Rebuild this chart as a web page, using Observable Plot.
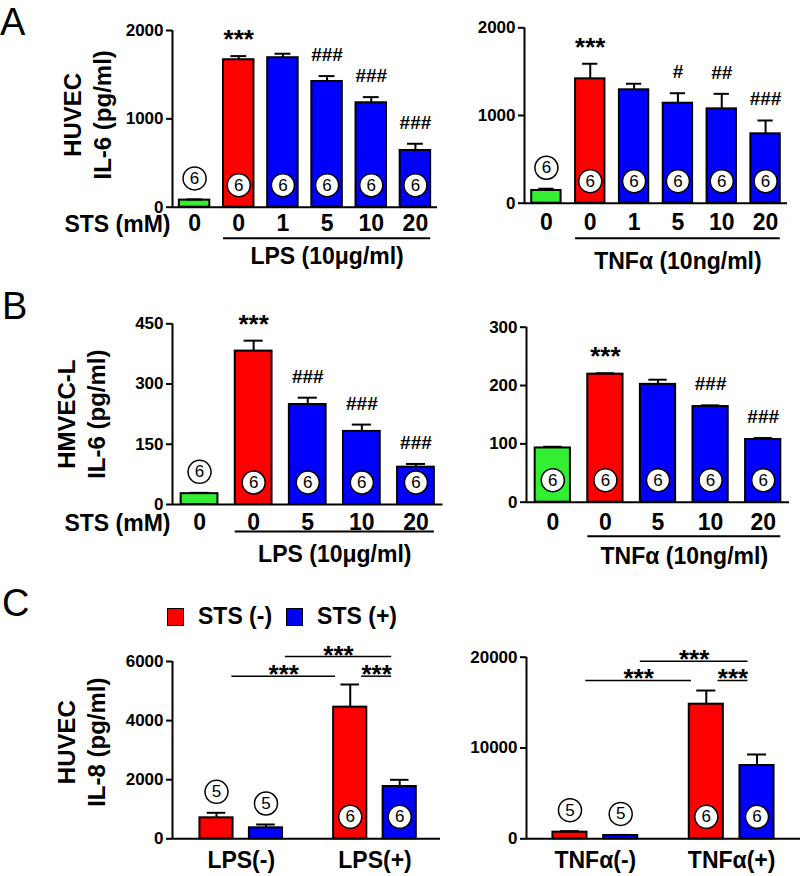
<!DOCTYPE html>
<html><head><meta charset="utf-8">
<script src="https://cdn.jsdelivr.net/npm/d3@7"></script>
<script src="https://cdn.jsdelivr.net/npm/@observablehq/plot@0.6"></script>
<style>
html,body{margin:0;padding:0;background:#fff;}
#fig{position:relative;width:800px;height:876px;font-family:"Liberation Sans",Arial,sans-serif;overflow:hidden;background:#fff;}
#fig > *{position:absolute;}
.letter{font-family:"Liberation Sans",Arial,sans-serif;font-size:38px;line-height:44px;color:#000;}
.legend{display:flex;align-items:center;font-family:"Liberation Sans",Arial,sans-serif;font-size:23px;font-weight:700;white-space:nowrap;color:#000;}
.sw{width:15px;height:16px;border:1.5px solid #000;margin-right:14px;}
.lab{margin-right:14px;font-weight:700;}
</style></head><body><div id="fig"></div>
<script>
// ---------- Panel A: HUVEC IL-6 (pg/ml) ----------
const A_stsDose = ["0", "0", "1", "5", "10", "20"];
const A_condition = ["ctrl", "stim", "sts", "sts", "sts", "sts"];
const A_lps_mean = [80, 1669, 1692, 1423, 1182, 642];
const A_lps_sem = [8, 41, 45, 61, 64, 76];
const A_lps_n = [6, 6, 6, 6, 6, 6];
const A_lps_sig = ["", "***", "", "###", "###", "###"];
const A_tnf_mean = [145, 1418, 1293, 1140, 1076, 791];
const A_tnf_sem = [20, 172, 69, 114, 171, 152];
const A_tnf_n = [6, 6, 6, 6, 6, 6];
const A_tnf_sig = ["", "***", "", "#", "##", "###"];
const A_yTicks = [0, 1000, 2000];
const A_yTitle = "HUVEC\nIL-6 (pg/ml)";

// ---------- Panel B: HMVEC-L IL-6 (pg/ml) ----------
const B_stsDose = ["0", "0", "5", "10", "20"];
const B_condition = ["ctrl", "stim", "sts", "sts", "sts"];
const B_lps_mean = [27, 382, 249, 182, 93];
const B_lps_sem = [2, 26, 17, 17, 8];
const B_lps_n = [6, 6, 6, 6, 6];
const B_lps_sig = ["", "***", "###", "###", "###"];
const B_lps_yTicks = [0, 150, 300, 450];
const B_tnf_mean = [93, 219.5, 202, 164, 107.5];
const B_tnf_sem = [2, 1.5, 8, 2, 2.5];
const B_tnf_n = [6, 6, 6, 6, 6];
const B_tnf_sig = ["", "***", "", "###", "###"];
const B_tnf_yTicks = [0, 100, 200, 300];
const B_yTitle = "HMVEC-L\nIL-6 (pg/ml)";

// ---------- Panel C: HUVEC IL-8 (pg/ml) ----------
const C_series = ["STS (-)", "STS (+)"];
const C_seriesColor = ["#ff0000", "#0000ff"];
const C_lps_groups = ["LPS(-)", "LPS(+)"];
const C_lps_stsNeg_mean = [710, 4455];
const C_lps_stsNeg_sem = [170, 767];
const C_lps_stsNeg_n = [5, 6];
const C_lps_stsPos_mean = [372, 1770];
const C_lps_stsPos_sem = [112, 226];
const C_lps_stsPos_n = [5, 6];
const C_lps_yTicks = [0, 2000, 4000, 6000];
const C_lps_bracketFrom = [-0.07, 0.33, 0.9];
const C_lps_bracketTo = [0.705, 1.125, 1.125];
const C_lps_bracketY = [5503, 6169, 5503];
const C_lps_bracketLabel = ["***", "***", "***"];
const C_tnf_groups = ["TNFα(-)", "TNFα(+)"];
const C_tnf_stsNeg_mean = [730, 14824];
const C_tnf_stsNeg_sem = [110, 1506];
const C_tnf_stsNeg_n = [5, 6];
const C_tnf_stsPos_mean = [360, 8073];
const C_tnf_stsPos_sem = [70, 1211];
const C_tnf_stsPos_n = [5, 6];
const C_tnf_yTicks = [0, 10000, 20000];
const C_tnf_bracketFrom = [-0.07, 0.33, 0.9];
const C_tnf_bracketTo = [0.705, 1.12, 1.12];
const C_tnf_bracketY = [17434, 19560, 17434];
const C_tnf_bracketLabel = ["***", "***", "***"];
const C_yTitle = "HUVEC\nIL-8 (pg/ml)";

const stsAxisLabel = "STS (mM)";
const lpsLabel = "LPS (10μg/ml)";
const tnfLabel = "TNFα (10ng/ml)";
const panelLetters = ["A", "B", "C"];

// ---------- drawing ----------
const FONT = '"Liberation Sans", Arial, sans-serif';
const BIG = 23;
const condFill = {ctrl: "#33ee33", stim: "#ff0000", sts: "#0000ff"};
const fig = document.getElementById("fig");

function place(el, g) {
  el.style.left = g.left + "px";
  el.style.top = g.top + "px";
  fig.appendChild(el);
}

function common(g) {
  return {
    width: g.width, height: g.height,
    marginTop: g.mt, marginRight: g.mr, marginBottom: g.mb, marginLeft: g.ml,
    color: {type: "identity"},
    style: {fontFamily: FONT, overflow: "visible", background: "transparent", color: "#000"}
  };
}

function sigMarks(rows, xKey) {
  return [
    Plot.text(rows.filter(d => d.note && d.note[0] === "*"), {x: xKey, y: "top", text: "note", lineAnchor: "bottom", dy: -8, fontSize: 26, fontWeight: "bold"}),
    Plot.text(rows.filter(d => d.note && d.note[0] === "#"), {x: xKey, y: "top", text: "note", lineAnchor: "bottom", dy: -15, fontSize: 19, fontWeight: "bold"})
  ];
}

function nMarks(rows, xKey, yMax) {
  const inside = d => d.mean > 0.2 * yMax;
  const inR = rows.filter(inside), outR = rows.filter(d => !inside(d));
  const circ = {r: 11.5, fill: "#fff", stroke: "#000", strokeWidth: 1.5};
  const lab = {text: d => String(d.n), fontSize: 17};
  return [
    Plot.dot(inR, {x: xKey, y: 0, dy: -22, ...circ}),
    Plot.text(inR, {x: xKey, y: 0, dy: -22, ...lab}),
    Plot.dot(outR, {x: xKey, y: "top", dy: -21, ...circ}),
    Plot.text(outR, {x: xKey, y: "top", dy: -21, ...lab})
  ];
}

function yAxisMarks(xd, yTicks, o) {
  const yMax = yTicks[yTicks.length - 1];
  const m = [
    Plot.ruleY([0], {strokeWidth: 2}),
    Plot.ruleX([xd[0]], {y1: 0, y2: yMax, strokeWidth: 2}),
    Plot.axisY({ticks: yTicks, tickFormat: d => String(d), tickSize: 6, tickPadding: 3, fontSize: 17, fontWeight: "bold", strokeWidth: 2, label: null})
  ];
  if (o.yTitle) m.push(Plot.text([o.yTitle], {text: d => d, frameAnchor: "left", textAnchor: "middle", lineAnchor: "middle", dx: o.titleDx, dy: o.titleDy, rotate: -90, fontSize: 24, fontWeight: "bold", lineHeight: 1.25}));
  return m;
}

function barPanel(o) {
  const n = o.dose.length;
  const xd = [-0.5, n - 0.5];
  const rows = o.dose.map((s, i) => ({i, mean: o.mean[i], top: o.mean[i] + o.sem[i], cond: o.cond[i], note: o.sig[i], n: o.n[i]}));
  const hw = o.barW / 2, cap = o.barW * 0.26;
  const tr = rows.filter(d => d.cond !== "ctrl");
  const t0 = tr[0].i - hw, t1 = tr[tr.length - 1].i + hw;
  const yMax = o.yTicks[o.yTicks.length - 1];
  const marks = [
    Plot.rectY(rows, {x1: d => d.i - hw, x2: d => d.i + hw, y1: 0, y2: "mean", fill: d => condFill[d.cond], stroke: "#000", strokeWidth: 2}),
    Plot.ruleX(rows, {x: "i", y1: "mean", y2: "top", strokeWidth: 2}),
    Plot.ruleY(rows, {y: "top", x1: d => d.i - cap, x2: d => d.i + cap, strokeWidth: 2}),
    ...yAxisMarks(xd, o.yTicks, o),
    Plot.axisX({ticks: d3.range(n), tickFormat: i => o.dose[i], tickSize: 0, tickPadding: o.catPad, fontSize: BIG, fontWeight: "bold", label: null}),
    Plot.ruleY([0], {x1: () => t0, x2: () => t1, dy: o.ulDy, strokeWidth: 2}),
    Plot.text([o.stim], {text: d => d, x: () => (t0 + t1) / 2, frameAnchor: "bottom", textAnchor: "middle", lineAnchor: "top", dy: o.stimDy, fontSize: BIG, fontWeight: "bold"}),
    ...sigMarks(rows, "i"),
    ...nMarks(rows, "i", yMax)
  ];
  if (o.showSts) marks.push(Plot.text([stsAxisLabel], {text: d => d, frameAnchor: "bottom-left", textAnchor: "end", lineAnchor: "top", dx: -2, dy: o.catPad + 1, fontSize: BIG, fontWeight: "bold"}));
  const svg = Plot.plot({...common(o.g), x: {domain: xd}, y: {domain: [0, yMax]}, marks});
  place(svg, o.g);
}

function groupPanel(o) {
  const rows = [];
  o.groups.forEach((g, gi) => o.series.forEach((s, si) => {
    rows.push({x: gi + (si === 0 ? -o.off : o.off), mean: o.mean[si][gi], top: o.mean[si][gi] + o.sem[si][gi], n: o.n[si][gi], color: o.colors[si]});
  }));
  const hw = o.barW / 2, cap = o.barW * 0.28;
  const yMax = o.yTicks[o.yTicks.length - 1];
  const br = o.bFrom.map((f, k) => ({x1: f, x2: o.bTo[k], y: o.bY[k], label: o.bLabel[k]}));
  const marks = [
    Plot.rectY(rows, {x1: d => d.x - hw, x2: d => d.x + hw, y1: 0, y2: "mean", fill: "color", stroke: "#000", strokeWidth: 2}),
    Plot.ruleX(rows, {x: "x", y1: "mean", y2: "top", strokeWidth: 2}),
    Plot.ruleY(rows, {y: "top", x1: d => d.x - cap, x2: d => d.x + cap, strokeWidth: 2}),
    ...yAxisMarks(o.xd, o.yTicks, o),
    Plot.axisX({ticks: d3.range(o.groups.length), tickFormat: i => o.groups[i], tickSize: 0, tickPadding: 13, fontSize: BIG, fontWeight: "bold", label: null}),
    Plot.ruleY(br, {x1: "x1", x2: "x2", y: "y", strokeWidth: 1.5}),
    Plot.text(br, {x: d => (d.x1 + d.x2) / 2, y: "y", text: "label", lineAnchor: "bottom", dy: 7, fontSize: 26, fontWeight: "bold"}),
    ...nMarks(rows, "x", yMax)
  ];
  const svg = Plot.plot({...common(o.g), x: {domain: o.xd}, y: {domain: [0, yMax]}, marks});
  place(svg, o.g);
}

// Panel A
barPanel({g: {left: 0, top: 0, width: 450, height: 280, ml: 172, mr: 13, mt: 30, mb: 73.3},
  dose: A_stsDose, cond: A_condition, mean: A_lps_mean, sem: A_lps_sem, n: A_lps_n, sig: A_lps_sig,
  yTicks: A_yTicks, barW: 0.69, catPad: 7, ulDy: 31, stimDy: 40, stim: lpsLabel, showSts: true,
  yTitle: A_yTitle, titleDx: -86, titleDy: -4});
barPanel({g: {left: 450, top: 0, width: 350, height: 280, ml: 74, mr: 13, mt: 27.3, mb: 77.3},
  dose: A_stsDose, cond: A_condition, mean: A_tnf_mean, sem: A_tnf_sem, n: A_tnf_n, sig: A_tnf_sig,
  yTicks: A_yTicks, barW: 0.67, catPad: 10, ulDy: 35, stimDy: 49, stim: tnfLabel, showSts: false});
// Panel B
barPanel({g: {left: 0, top: 280, width: 450, height: 300, ml: 172, mr: 7.5, mt: 43.3, mb: 76},
  dose: B_stsDose, cond: B_condition, mean: B_lps_mean, sem: B_lps_sem, n: B_lps_n, sig: B_lps_sig,
  yTicks: B_lps_yTicks, barW: 0.68, catPad: 9, ulDy: 27, stimDy: 41, stim: lpsLabel, showSts: true,
  yTitle: B_yTitle, titleDx: -92, titleDy: 0});
barPanel({g: {left: 450, top: 280, width: 350, height: 300, ml: 76, mr: 11, mt: 46.7, mb: 78.3},
  dose: B_stsDose, cond: B_condition, mean: B_tnf_mean, sem: B_tnf_sem, n: B_tnf_n, sig: B_tnf_sig,
  yTicks: B_tnf_yTicks, barW: 0.67, catPad: 11, ulDy: 34, stimDy: 45, stim: tnfLabel, showSts: false});
// Panel C
groupPanel({g: {left: 0, top: 580, width: 450, height: 296, ml: 172, mr: 10, mt: 81, mb: 37.7},
  xd: [-0.514, 1.49], groups: C_lps_groups, series: C_series, colors: C_seriesColor,
  mean: [C_lps_stsNeg_mean, C_lps_stsPos_mean], sem: [C_lps_stsNeg_sem, C_lps_stsPos_sem], n: [C_lps_stsNeg_n, C_lps_stsPos_n],
  yTicks: C_lps_yTicks, off: 0.185, barW: 0.248,
  bFrom: C_lps_bracketFrom, bTo: C_lps_bracketTo, bY: C_lps_bracketY, bLabel: C_lps_bracketLabel,
  yTitle: C_yTitle, titleDx: -92, titleDy: -8});
groupPanel({g: {left: 450, top: 580, width: 350, height: 296, ml: 76, mr: 0, mt: 76.7, mb: 37.7},
  xd: [-0.505, 1.505], groups: C_tnf_groups, series: C_series, colors: C_seriesColor,
  mean: [C_tnf_stsNeg_mean, C_tnf_stsPos_mean], sem: [C_tnf_stsNeg_sem, C_tnf_stsPos_sem], n: [C_tnf_stsNeg_n, C_tnf_stsPos_n],
  yTicks: C_tnf_yTicks, off: 0.186, barW: 0.25,
  bFrom: C_tnf_bracketFrom, bTo: C_tnf_bracketTo, bY: C_tnf_bracketY, bLabel: C_tnf_bracketLabel});

// Legend for panel C
const legend = document.createElement("div");
legend.className = "legend";
C_series.forEach((s, i) => {
  const sw = document.createElement("span"); sw.className = "sw"; sw.style.background = C_seriesColor[i];
  const lb = document.createElement("span"); lb.className = "lab"; lb.textContent = s;
  legend.appendChild(sw); legend.appendChild(lb);
});
place(legend, {left: 167, top: 603});

// Panel letters
const letterTops = [0, 284, 581];
panelLetters.forEach((L, i) => {
  const d = document.createElement("div"); d.className = "letter"; d.textContent = L;
  place(d, {left: i === 0 ? 0 : 2, top: letterTops[i]});
});
</script></body></html>
